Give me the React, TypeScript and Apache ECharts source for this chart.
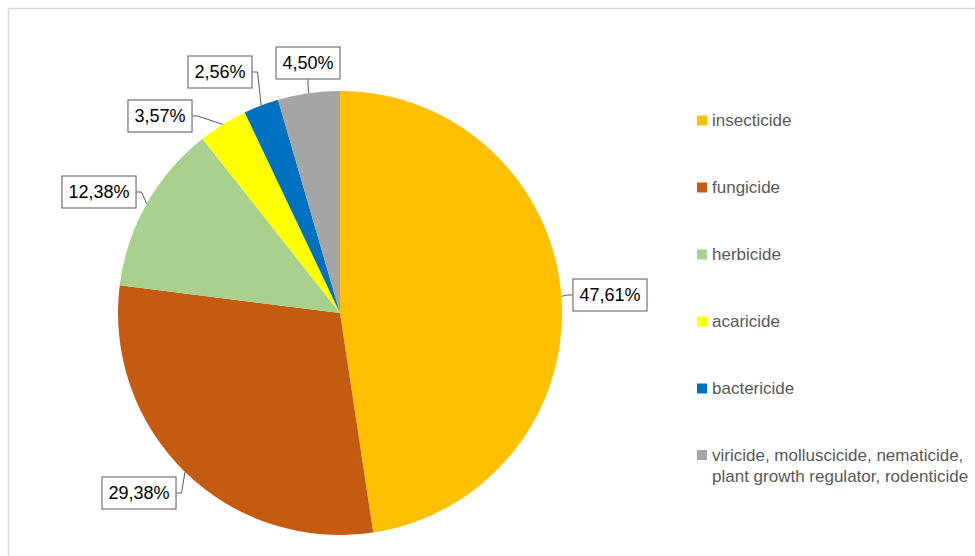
import React, { useEffect, useRef } from "react";
import * as echarts from "echarts";

const categories = [
  "insecticide",
  "fungicide",
  "herbicide",
  "acaricide",
  "bactericide",
  "viricide, molluscicide, nematicide,\nplant growth regulator, rodenticide",
];
const shares = [47.61, 29.38, 12.38, 3.57, 2.56, 4.5];
const colors = ["#FFC000", "#C55A11", "#A9D18E", "#FFFF00", "#0070C0", "#A5A5A5"];

// label box centres (layout only)
const labelCentres: [number, number][] = [
  [610, 295],
  [139, 493],
  [99, 192],
  [160, 116],
  [220, 72],
  [308, 63],
];

export default function App() {
  const ref = useRef<HTMLDivElement>(null);
  useEffect(() => {
    if (!ref.current) return;
    const chart = echarts.init(ref.current, undefined, { renderer: "svg" });
    const font = "'Liberation Sans', Arial, sans-serif";
    const lastName = categories[categories.length - 1];
    const legendBase = {
      orient: "vertical",
      left: 697,
      padding: 0,
      itemWidth: 10,
      itemHeight: 10,
      itemGap: 46,
      icon: "rect",
      selectedMode: false,
      textStyle: { fontFamily: font, fontSize: 17, color: "#595959", lineHeight: 21 },
    };
    chart.setOption({
      animation: false,
      backgroundColor: "#ffffff",
      graphic: [
        {
          type: "rect",
          shape: { x: 8.5, y: 8.5, width: 1000, height: 600 },
          style: { fill: "none", stroke: "#d9d9d9", lineWidth: 1.5 },
          silent: true,
        },
      ],
      legend: [
        { ...legendBase, top: 110, data: categories.slice(0, categories.length - 1) },
        {
          ...legendBase,
          top: 423.5,
          formatter: (name: string) => "\n" + name,
          data: [lastName],
        },
      ],
      series: [
        {
          type: "pie",
          center: [340, 313],
          radius: 222,
          startAngle: 90,
          clockwise: true,
          avoidLabelOverlap: false,
          itemStyle: { borderWidth: 0 },
          emphasis: { disabled: true },
          data: categories.map((c, i) => ({
            name: c,
            value: shares[i],
            itemStyle: { color: colors[i] },
          })),
          label: {
            show: true,
            position: "outside",
            formatter: (p: any) => shares[p.dataIndex].toFixed(2).replace(".", ",") + "%",
            fontFamily: font,
            fontSize: 18,
            color: "#000000",
            backgroundColor: "#ffffff",
            borderColor: "#595959",
            borderWidth: 1,
            padding: [6, 6, 5, 6],
            lineHeight: 20,
          },
          labelLine: {
            show: true,
            length: 5,
            length2: 5,
            lineStyle: { color: "#595959", width: 1 },
          },
          labelLayout: (params: any) => {
            const c = labelCentres[params.dataIndex];
            return { x: c[0], y: c[1], align: "center", verticalAlign: "middle" };
          },
        },
      ],
    });
    return () => chart.dispose();
  }, []);
  return (
    <div
      ref={ref}
      style={{ position: "absolute", left: 0, top: 0, width: 975, height: 556 }}
    />
  );
}
